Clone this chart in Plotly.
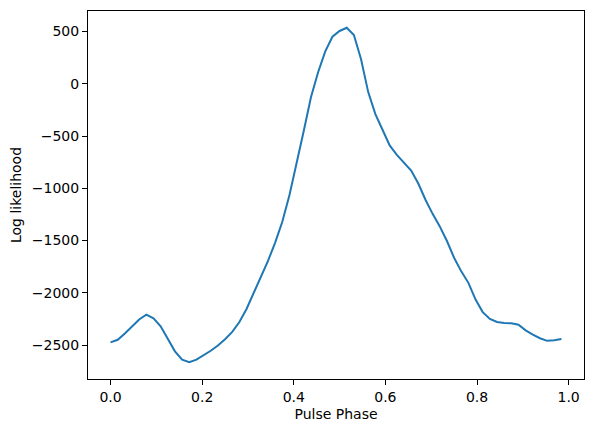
import numpy as np
import plotly.graph_objects as go

# 64 phase bins over one pulse period
phase = np.arange(64) / 64

log_likelihood = [
    -2475, -2450, -2390, -2325, -2255, -2210, -2245, -2320,
    -2435, -2560, -2640, -2665, -2640, -2600, -2555, -2505,
    -2445, -2375, -2280, -2155, -2000, -1840, -1695, -1520,
    -1320, -1065, -765, -450, -130, 110, 310, 450,
    505, 536, 467, 235, -80, -290, -440, -590,
    -680, -750, -830, -955, -1110, -1245, -1365, -1505,
    -1665, -1795, -1905, -2065, -2185, -2250, -2280, -2290,
    -2292, -2305, -2360, -2400, -2435, -2460, -2455, -2442,
]

x_ticks = [0.0, 0.2, 0.4, 0.6, 0.8, 1.0]
y_ticks = [500, 0, -500, -1000, -1500, -2000, -2500]

# matplotlib-like 5% padding around the data
xmin, xmax = float(phase.min()), float(phase.max())
ymin, ymax = min(log_likelihood), max(log_likelihood)
xpad = 0.05 * (xmax - xmin)
ypad = 0.05 * (ymax - ymin)

fig = go.Figure(go.Scatter(
    x=phase, y=log_likelihood, mode="lines",
    line=dict(color="#1f77b4", width=2),
))

axis_style = dict(
    showline=True, linecolor="black", linewidth=1.1, mirror=True,
    showgrid=False, zeroline=False,
    ticks="outside", ticklen=5, tickwidth=1.1, tickcolor="black",
    tickfont=dict(family="DejaVu Sans", size=14, color="black"),
)

# page body has an 8px margin, so the figure is 8px smaller than the window
fig.update_layout(
    width=585, height=425,
    margin=dict(l=80, r=8.5, t=2.5, b=53.5),
    paper_bgcolor="white", plot_bgcolor="white",
    font=dict(family="DejaVu Sans", size=14, color="black"),
    showlegend=False,
    xaxis=dict(
        range=[xmin - xpad, xmax + xpad],
        tickvals=x_ticks, tickformat=".1f",
        title=dict(text="Pulse Phase", standoff=5,
                   font=dict(family="DejaVu Sans", size=14, color="black")),
        **axis_style,
    ),
    yaxis=dict(
        range=[ymin - ypad, ymax + ypad],
        tickvals=y_ticks,
        title=dict(text="Log likelihood", standoff=6,
                   font=dict(family="DejaVu Sans", size=14, color="black")),
        **axis_style,
    ),
)

fig.write_html("out.html")
